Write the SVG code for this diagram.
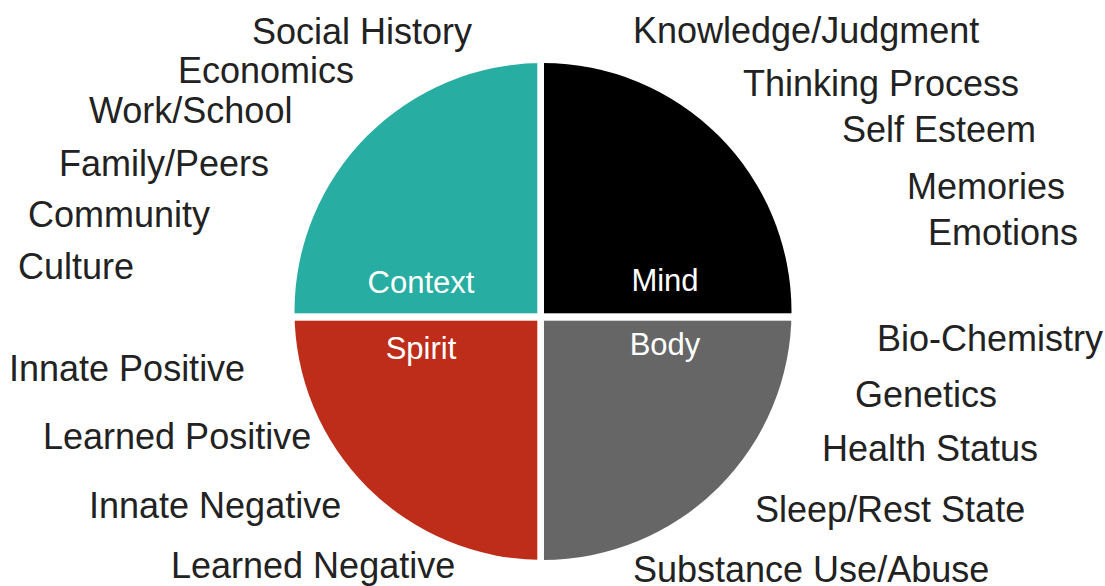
<svg xmlns="http://www.w3.org/2000/svg" width="1105" height="586" viewBox="0 0 1105 586">
<style>
.lbl{font-family:"Liberation Sans",Arial,sans-serif;font-size:36px;fill:#222222}
.in{font-family:"Liberation Sans",Arial,sans-serif;font-size:31px;fill:#ffffff;text-anchor:middle}
</style>
<defs>
<clipPath id="disc"><circle cx="543" cy="311.5" r="248.5"/></clipPath>
</defs>
<rect x="0" y="0" width="1105" height="586" fill="#ffffff"/>
<g id="context">
<rect x="294" y="62" width="243.3" height="251.3" fill="#27ADA1" clip-path="url(#disc)"/>
<text class="in" x="421" y="293">Context</text>
</g>
<g id="mind">
<rect x="544" y="62" width="250" height="251.3" fill="#000000" clip-path="url(#disc)"/>
<text class="in" x="665" y="291">Mind</text>
</g>
<g id="spirit">
<rect x="294" y="320.7" width="243.3" height="241" fill="#BD2D1A" clip-path="url(#disc)"/>
<text class="in" x="421" y="359">Spirit</text>
</g>
<g id="body">
<rect x="544" y="320.7" width="250" height="241" fill="#666666" clip-path="url(#disc)"/>
<text class="in" x="665" y="355">Body</text>
</g>
<g id="context-items">
<text class="lbl" x="252" y="44">Social History</text>
<text class="lbl" x="178" y="83">Economics</text>
<text class="lbl" x="89" y="123">Work/School</text>
<text class="lbl" x="59" y="176">Family/Peers</text>
<text class="lbl" x="28" y="227">Community</text>
<text class="lbl" x="18" y="279">Culture</text>
</g>
<g id="mind-items">
<text class="lbl" x="633" y="43">Knowledge/Judgment</text>
<text class="lbl" x="743" y="96">Thinking Process</text>
<text class="lbl" x="842" y="142">Self Esteem</text>
<text class="lbl" x="907" y="199">Memories</text>
<text class="lbl" x="928" y="245">Emotions</text>
</g>
<g id="spirit-items">
<text class="lbl" x="9" y="381">Innate Positive</text>
<text class="lbl" x="43" y="449">Learned Positive</text>
<text class="lbl" x="89" y="518">Innate Negative</text>
<text class="lbl" x="171" y="578">Learned Negative</text>
</g>
<g id="body-items">
<text class="lbl" x="877" y="351">Bio-Chemistry</text>
<text class="lbl" x="855" y="407">Genetics</text>
<text class="lbl" x="822" y="461">Health Status</text>
<text class="lbl" x="755" y="522">Sleep/Rest State</text>
<text class="lbl" x="633" y="582">Substance Use/Abuse</text>
</g>
<g id="connectors"/>
</svg>
